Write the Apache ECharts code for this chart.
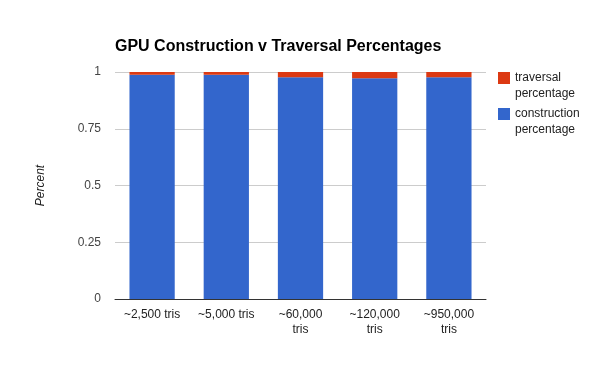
<!DOCTYPE html>
<html><head><meta charset="utf-8">
<script src="https://cdn.jsdelivr.net/npm/echarts@6/dist/echarts.min.js"></script>
<style>html,body{margin:0;padding:0;background:#fff}#c{width:600px;height:371px}</style>
</head><body><div id="c"></div>
<script>
const categories = ["~2,500 tris", "~5,000 tris", "~60,000\ntris", "~120,000\ntris", "~950,000\ntris"];
const construction = [0.988, 0.988, 0.977, 0.972, 0.977];
const traversal = [0.012, 0.012, 0.023, 0.028, 0.023];
const yTicks = [0, 0.25, 0.5, 0.75, 1];
const legendNames = ["traversal\npercentage", "construction\npercentage"];

const chart = echarts.init(document.getElementById('c'));
const font = 'Liberation Sans, Arial, sans-serif';
const legendTop = 70, legendStep = 36;
chart.setOption({
  animation: false,
  textStyle: {fontFamily: font},
  title: {text: 'GPU Construction v Traversal Percentages', left: 110, top: 34,
    textStyle: {fontFamily: font, fontSize: 16, fontWeight: 'bold', color: '#000'}},
  legend: {orient: 'vertical', left: 498, top: legendTop, padding: 0, itemWidth: 12, itemHeight: 12,
    itemGap: legendStep - 16, icon: 'rect',
    data: legendNames.map(n => ({name: n})),
    formatter: n => n.split('\n')[0],
    textStyle: {fontFamily: font, fontSize: 12, color: '#222', lineHeight: 16}},
  graphic: legendNames.map((n, i) => ({
    type: 'text', left: 515, top: legendTop + 16 + i * legendStep,
    style: {text: n.split('\n')[1], fontSize: 12, fontFamily: font, fill: '#222', lineHeight: 16}
  })),
  grid: {left: 115, right: 114, top: 72, bottom: 72},
  xAxis: {type: 'category', data: categories,
    axisLine: {lineStyle: {color: '#333'}}, axisTick: {show: false},
    axisLabel: {color: '#222', fontSize: 12, lineHeight: 15, margin: 8, fontFamily: font}},
  yAxis: {type: 'value', min: 0, max: 1, interval: 0.25,
    name: 'Percent', nameLocation: 'middle', nameGap: 68, nameRotate: 90,
    nameTextStyle: {fontStyle: 'italic', color: '#222', fontSize: 12, fontFamily: font},
    axisLine: {show: false}, axisTick: {show: false},
    axisLabel: {color: '#444', fontSize: 12, margin: 14, fontFamily: font,
      formatter: v => yTicks.includes(v) ? String(v) : ''},
    splitLine: {lineStyle: {color: '#ccc'}}},
  series: [
    {name: legendNames[1], type: 'bar', stack: 's', data: construction, barWidth: '61%',
      itemStyle: {color: '#3366cc'}},
    {name: legendNames[0], type: 'bar', stack: 's', data: traversal, barWidth: '61%',
      itemStyle: {color: '#dc3912'}}
  ]
});
</script></body></html>
